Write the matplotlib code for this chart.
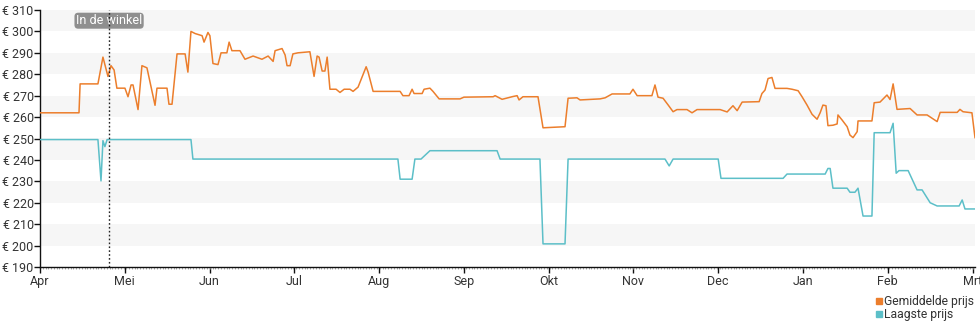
import matplotlib
matplotlib.use("Agg")
import matplotlib.pyplot as plt
from matplotlib.lines import Line2D
import numpy as np

plt.rcParams['font.family'] = ['Roboto', 'DejaVu Sans']

# days since 1 April, with a month counted as 365.25 / 12 days on the axis
avg_day = [0, 14.0, 14.4, 20.8, 22.6, 24.4, 25.5, 26.6, 27.6, 30.5, 31.6, 32.7, 33.4, 35.2,
           36.6, 38.4, 41.3, 42.0, 45.6, 46.3, 47.4, 49.2, 52.1, 53.1, 54.2, 55.7, 58.2,
           58.9, 60.3, 61.0, 62.1, 63.9, 65.0, 67.1, 67.9, 68.9, 71.8, 73.6, 76.5, 79.7,
           81.9, 83.7, 84.4, 86.9, 88.0, 88.7, 89.8, 90.8, 92.6, 96.9, 98.4, 99.5, 100.2,
           101.3, 102.3, 103.1, 104.1, 106.3, 107.7, 109.2, 111.3, 112.4, 114.2, 117.1,
           117.8, 119.6, 129.3, 130.3, 132.5, 133.6, 134.3, 137.2, 137.9, 140.0, 141.1,
           143.3, 150.8, 152.2, 162.7, 163.4, 165.9, 169.8, 171.3, 172.0, 173.4, 178.8,
           180.6, 188.5, 189.6, 192.8, 193.9, 201.1, 202.9, 205.4, 211.8, 212.9, 214.4,
           219.7, 220.8, 221.9, 223.7, 225.5, 227.3, 228.7, 232.3, 234.1, 235.9, 244.2,
           246.7, 248.8, 250.3, 252.1, 258.2, 259.2, 260.3, 261.4, 262.8, 263.9, 268.2,
           270.0, 272.2, 273.6, 275.4, 277.2, 279.0, 280.1, 281.1, 282.2, 282.9, 284.7,
           286.2, 286.5, 288.0, 289.8, 290.8, 291.9, 293.4, 293.7, 298.7, 299.5, 301.6,
           304.1, 305.2, 306.3, 307.7, 312.4, 314.9, 318.5, 322.1, 323.2, 329.3, 330.3,
           331.4, 334.6, 335.7]
avg_price = [262, 262, 275.5, 275.5, 288, 279, 284, 282, 273.5, 273.5, 269.5, 275, 275, 263.5,
             284, 283, 265.5, 273.5, 273.5, 266, 266, 289.5, 289.5, 281, 300, 299, 298,
             295, 299.5, 298, 285, 284.5, 290, 290, 295, 291, 291, 287, 288.5, 287,
             288.5, 286, 291, 292, 289, 284, 284, 289.5, 290, 290.5, 279, 288.5, 288,
             281.5, 281.5, 288, 273, 273, 271.5, 273, 273, 272, 274, 283.5,
             281, 272, 272, 270, 270, 273, 271, 271, 273, 273.5, 272,
             268.5, 268.5, 269.3, 269.5, 270, 268.3, 269.6, 270, 268, 269.5, 269.5,
             255, 255.5, 268.8, 269, 268, 268.5, 269, 270.8, 270.8, 273, 270,
             270, 275, 269.3, 268.8, 265.7, 262.5, 263.5, 263.5, 262, 263.5, 263.5,
             262.4, 265.3, 263, 267, 267.2, 271, 272.6, 278, 278.5, 273.4, 273.4,
             273, 272.3, 269.5, 265.6, 261.3, 259, 262, 265.6, 265.3, 256, 256.2,
             256.8, 261, 258.6, 255.5, 251.6, 250.4, 253.2, 258.2, 258.2, 266.7, 267,
             270.3, 268.2, 275.5, 263.6, 264, 261, 261, 257.9, 262.2, 262.2, 263.6,
             262.5, 262, 250.4]

low_day = [0, 20.8, 21.9, 22.6, 23.3, 24.1, 54.2, 54.9, 128.5, 129.3, 133.6, 134.6, 136.8,
           140.0, 164.1, 165.2, 179.5, 180.6, 188.5, 189.6, 224.4, 225.9, 227.3, 243.5,
           244.5, 266.8, 268.2, 281.9, 282.9, 283.7, 284.7, 289.8, 290.8, 292.6, 293.7,
           295.5, 298.7, 299.5, 305.2, 306.3, 307.4, 308.4, 311.7, 314.9, 316.7, 319.6,
           322.1, 330.0, 331.1, 332.1, 335.7]
low_price = [249.5, 249.5, 230.2, 249, 246.2, 249.5, 249.5, 240.4, 240.4, 231, 231, 240.4, 240.4,
             244.3, 244.3, 240.4, 240.4, 200.8, 200.8, 240.4, 240.4, 237.2, 240.4, 240.4,
             231.4, 231.4, 233.4, 233.4, 236, 236, 226.8, 226.8, 224.9, 224.9, 226.8,
             213.8, 213.8, 252.7, 252.7, 257.1, 233.8, 235, 235, 226, 226, 220,
             218.5, 218.5, 221.3, 217.1, 217.1]

months = ['Apr', 'Mei', 'Jun', 'Jul', 'Aug', 'Sep', 'Okt', 'Nov', 'Dec', 'Jan', 'Feb', 'Mrt']
price_ticks = list(range(190, 311, 10))
store_day = 24.8
store_label = 'In de winkel'

MONTH = 365.25 / 12
ORANGE = '#ec7e2c'
TEAL = '#5cbfc8'

fig = plt.figure(figsize=(9.8, 3.25), dpi=100)
ax = fig.add_axes([40 / 980, 1 - 267 / 325, 935 / 980, 257 / 325])

# alternating light bands behind the lines
for lo in range(200, 310, 20):
    ax.axhspan(lo, lo + 10, color='#f6f6f6', lw=0, zorder=0)

ax.plot(avg_day, avg_price, color=ORANGE, lw=1.1, zorder=3)
ax.plot(low_day, low_price, color=TEAL, lw=1.1, zorder=3)

# store marker: label box first, dotted line drawn across it
ax.text(store_day, 305, store_label, ha='center', va='center', fontsize=9, color='white',
        zorder=4, bbox=dict(boxstyle='round,pad=0.12,rounding_size=0.3', fc='#8f8f8f', ec='none'))
ax.axvline(store_day, color='#222222', lw=1.0, ls=(0, (1.2, 1.6)), zorder=5)

ax.set_xlim(0, 335.7)
ax.set_ylim(190, 310)
ax.set_yticks(price_ticks)
ax.set_yticklabels([f'€ {v}' for v in price_ticks])
ax.set_xticks([i * MONTH for i in range(len(months))])
ax.set_xticklabels(months)
ax.set_xticks(np.arange(0, 336, 1.0), minor=True)

for side in ('top', 'right'):
    ax.spines[side].set_visible(False)
for side in ('left', 'bottom'):
    ax.spines[side].set_color('#111111')
    ax.spines[side].set_linewidth(1.0)

ax.tick_params(axis='both', which='major', length=4, width=1, color='#111111',
               labelsize=9, labelcolor='#333333')
ax.tick_params(axis='y', which='major', pad=0.5)
ax.tick_params(axis='x', which='major', pad=1.5)
ax.tick_params(axis='x', which='minor', length=1.5, width=0.6, color='#999999')
ax.tick_params(axis='y', which='minor', left=False)

handles = [Line2D([], [], ls='none', marker='s', ms=4, color=ORANGE),
           Line2D([], [], ls='none', marker='s', ms=4, color=TEAL)]
fig.legend(handles, ['Gemiddelde prijs', 'Laagste prijs'], loc='upper left',
           bbox_to_anchor=(870 / 980, 1 - 289 / 325), frameon=False, fontsize=8.7,
           handlelength=0.5, handletextpad=0.15, labelspacing=0.0, borderpad=0,
           labelcolor='#333333')

fig.savefig('out.png', dpi=100)
